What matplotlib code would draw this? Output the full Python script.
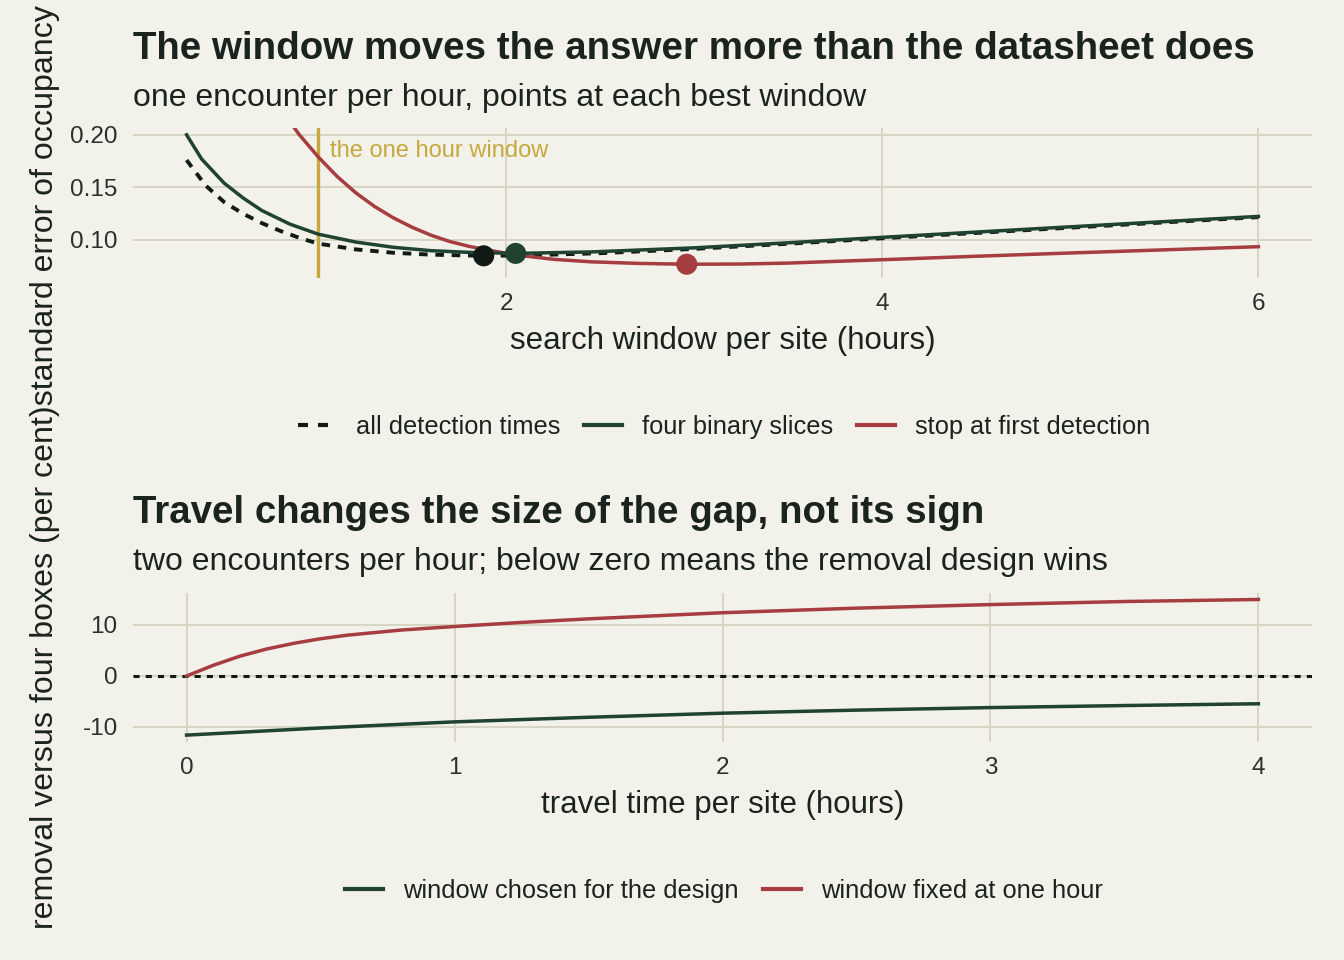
import matplotlib.pyplot as plt
from matplotlib.lines import Line2D

# top panel: standard error of occupancy against search window
window_all = [0.3, 0.4, 0.5, 0.6, 0.7, 0.8, 0.9, 1.0, 1.2, 1.4, 1.6, 1.88, 2.1, 2.5, 3.0, 3.5, 4.0, 5.0, 6.0]
se_all = [0.176, 0.152, 0.136, 0.125, 0.116, 0.1085, 0.102, 0.0965, 0.091, 0.0878, 0.0860, 0.0849, 0.0853, 0.0874, 0.0915, 0.0964, 0.1016, 0.1117, 0.1217]

window_slices = [0.3, 0.38, 0.5, 0.6, 0.7, 0.85, 1.0, 1.2, 1.4, 1.6, 1.8, 2.05, 2.45, 3.0, 3.5, 4.0, 5.0, 6.0]
se_slices = [0.200, 0.177, 0.154, 0.140, 0.128, 0.115, 0.1055, 0.098, 0.093, 0.0898, 0.0882, 0.0872, 0.0886, 0.0925, 0.0973, 0.1025, 0.1125, 0.1224]

window_stop = [0.7, 0.8, 0.9, 1.0, 1.1, 1.2, 1.3, 1.4, 1.5, 1.6, 1.7, 1.8, 1.9, 2.0, 2.1, 2.25, 2.45, 2.7, 2.96, 3.25, 3.5, 4.0, 4.5, 5.0, 5.5, 6.0]
se_stop = [0.253, 0.2245, 0.200, 0.179, 0.1605, 0.1448, 0.1318, 0.1210, 0.1120, 0.1045, 0.0985, 0.0940, 0.0905, 0.0873, 0.0847, 0.0816, 0.0792, 0.0777, 0.0769, 0.0771, 0.0780, 0.0812, 0.0845, 0.0876, 0.0906, 0.0936]

best_window = [1.88, 2.05, 2.96]
best_se = [0.0849, 0.0872, 0.0769]

# bottom panel: removal vs four boxes, per cent
travel = [0, 0.1, 0.2, 0.3, 0.4, 0.5, 0.6, 0.8, 1.0, 1.25, 1.5, 2.0, 2.5, 3.0, 3.5, 4.0]
gap_fixed = [0, 2.1, 3.9, 5.3, 6.4, 7.3, 8.0, 9.0, 9.7, 10.5, 11.2, 12.4, 13.3, 14.0, 14.6, 15.0]
travel_chosen = [0, 0.5, 1.0, 1.5, 2.0, 2.5, 3.0, 3.5, 4.0]
gap_chosen = [-11.6, -10.2, -9.0, -8.1, -7.3, -6.7, -6.2, -5.8, -5.45]

BG = "#f2f1ea"
GRID = "#d7d6c3"
INK = "#1b231e"
DARK = "#111a15"
GREEN = "#1f4330"
RED = "#a63d40"
GOLD = "#c6a93e"

plt.rcParams['font.family'] = ['Liberation Sans', 'DejaVu Sans']
plt.rcParams['axes.unicode_minus'] = False

fig = plt.figure(figsize=(13.44, 9.6), dpi=100, facecolor=BG)
W, H = 1344, 960


def axes_px(x0, y0, x1, y1):
    return fig.add_axes([x0 / W, 1 - y1 / H, (x1 - x0) / W, (y1 - y0) / H])


def style(ax):
    ax.set_facecolor(BG)
    for s in ax.spines.values():
        s.set_visible(False)
    ax.grid(True, color=GRID, linewidth=1.4)
    ax.set_axisbelow(True)
    ax.tick_params(length=0, labelsize=17.5, colors="#2a302c")
    ax.tick_params(axis="x", pad=11)
    ax.tick_params(axis="y", pad=11)


LW = 2.5

ax1 = axes_px(133, 128, 1312, 278)
style(ax1)
ax1.axvline(1, color=GOLD, linewidth=2.4, zorder=2)
ax1.text(1.06, 0.185, "the one hour window", color=GOLD, fontsize=17, va="center", ha="left")
ax1.plot(window_all, se_all, color=DARK, linewidth=LW + 0.3, linestyle=(0, (2.2, 2.0)), zorder=3)
ax1.plot(window_slices, se_slices, color=GREEN, linewidth=LW, zorder=4)
ax1.plot(window_stop, se_stop, color=RED, linewidth=LW, zorder=3)
ax1.scatter(best_window, best_se, s=230, color=[DARK, GREEN, RED], zorder=5, linewidths=0)
ax1.set_xlim(0.015, 6.285)
ax1.set_ylim(0.0638, 0.2065)
ax1.set_xticks([2, 4, 6])
ax1.set_yticks([0.10, 0.15, 0.20])
ax1.set_yticklabels(["0.10", "0.15", "0.20"])
ax1.set_xlabel("search window per site (hours)", fontsize=22.5, color=INK, labelpad=8)

ax2 = axes_px(133, 593, 1312, 742)
style(ax2)
ax2.axhline(0, color=DARK, linewidth=2.2, linestyle=(0, (2.0, 2.0)), zorder=2)
ax2.plot(travel_chosen, gap_chosen, color=GREEN, linewidth=LW, zorder=3)
ax2.plot(travel, gap_fixed, color=RED, linewidth=LW, zorder=3)
ax2.set_xlim(-0.2, 4.2)
ax2.set_ylim(-12.95, 16.27)
ax2.set_xticks([0, 1, 2, 3, 4])
ax2.set_yticks([-10, 0, 10])
ax2.set_xlabel("travel time per site (hours)", fontsize=22.5, color=INK, labelpad=8)

# titles and subtitles
fig.text(133 / W, 1 - 59 / H, "The window moves the answer more than the datasheet does",
         fontsize=27.7, fontweight="bold", color=INK, va="baseline")
fig.text(133 / W, 1 - 106 / H, "one encounter per hour, points at each best window",
         fontsize=23, color=INK, va="baseline")
fig.text(133 / W, 1 - 523 / H, "Travel changes the size of the gap, not its sign",
         fontsize=27.7, fontweight="bold", color=INK, va="baseline")
fig.text(133 / W, 1 - 570 / H, "two encounters per hour; below zero means the removal design wins",
         fontsize=23, color=INK, va="baseline")

fig.text(45 / W, 1 - 467 / H, "removal versus four boxes (per cent)standard error of occupancy",
         rotation=90, fontsize=23.1, color=INK, ha="center", va="center")

# legends
leg_kw = dict(loc="center", frameon=False, fontsize=18.3, handlelength=1.5,
              columnspacing=0.95, handletextpad=0.78, labelcolor=INK)
h_top = [Line2D([], [], color=DARK, linewidth=3, linestyle=(0, (2.4, 2.4))),
         Line2D([], [], color=GREEN, linewidth=3),
         Line2D([], [], color=RED, linewidth=3)]
fig.legend(h_top, ["all detection times", "four binary slices", "stop at first detection"],
           bbox_to_anchor=(724 / W, 1 - 427 / H), ncol=3, **leg_kw)
h_bot = [Line2D([], [], color=GREEN, linewidth=3),
         Line2D([], [], color=RED, linewidth=3)]
fig.legend(h_bot, ["window chosen for the design", "window fixed at one hour"],
           bbox_to_anchor=(724 / W, 1 - 891 / H), ncol=2, **leg_kw)

fig.savefig("out.png", dpi=100, facecolor=BG)
